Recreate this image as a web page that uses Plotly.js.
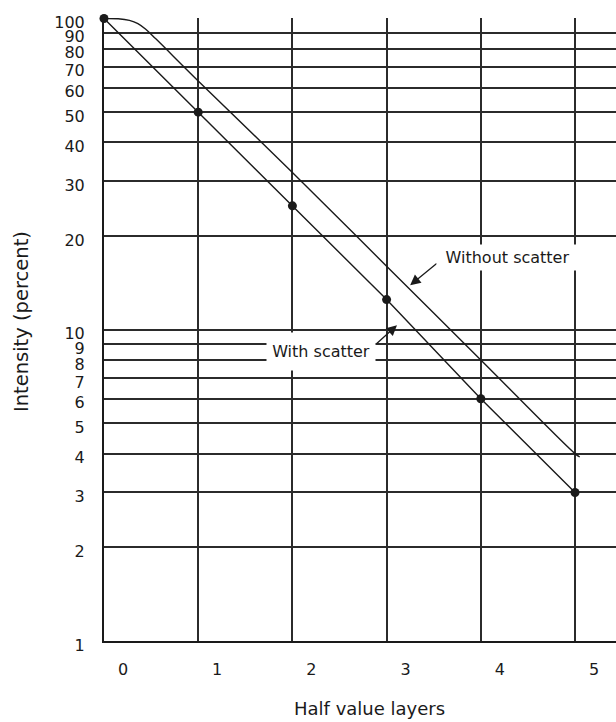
<!DOCTYPE html>
<html>
<head>
<meta charset="utf-8">
<script src="https://cdn.plot.ly/plotly-3.0.1.min.js"></script>
<style>
  html, body { margin: 0; padding: 0; background: #fff; }
  #chart { width: 616px; height: 722px; }
</style>
</head>
<body>
<div id="chart"></div>
<script>
// ---- data ----
const halfValueLayers = [0, 1, 2, 3, 4, 5];
const withScatter = [100, 50, 25, 12.5, 6, 3];
const withoutScatterX = [0, 0.15, 0.27, 0.36, 0.44, 0.55, 1, 2, 3, 4, 5, 5.05];
const withoutScatterY = [100, 99.8, 98.6, 96.3, 92.5, 86, 63, 32, 16, 8, 4, 3.9];
const xTickVals = [0, 1, 2, 3, 4, 5];
const xTickText = ['0', '1', '2', '3', '4', '5'];
const yTickVals = [1, 2, 3, 4, 5, 6, 7, 8, 9, 10, 20, 30, 40, 50, 60, 70, 80, 90, 100];
const yTickText = yTickVals.map(String);

const FONT = 'DejaVu Sans, Verdana, sans-serif';
const INK = '#1a1a1a';
const GRID = '#2b2b2b';

const traces = [
  {
    x: withoutScatterX, y: withoutScatterY,
    type: 'scatter', mode: 'lines',
    line: { color: INK, width: 1.4, shape: 'spline', smoothing: 1 },
    cliponaxis: false, hoverinfo: 'skip', showlegend: false
  },
  {
    x: halfValueLayers, y: withScatter,
    type: 'scatter', mode: 'lines+markers',
    line: { color: INK, width: 1.4 },
    marker: { color: INK, size: 9 },
    cliponaxis: false, hoverinfo: 'skip', showlegend: false
  }
];

const layout = {
  width: 616, height: 722,
  margin: { l: 104, r: 0, t: 18, b: 81, pad: 0 },
  paper_bgcolor: '#fff', plot_bgcolor: '#fff',
  font: { family: FONT, color: INK, size: 16 },
  showlegend: false,
  xaxis: {
    range: [0, 5.435],
    tickvals: xTickVals, ticktext: xTickText,
    showgrid: true, gridcolor: GRID, gridwidth: 2,
    showline: true, linecolor: INK, linewidth: 2,
    zeroline: false, ticks: '',
    ticklabelshift: 19, ticklabelstandoff: 13,
    tickfont: { family: FONT, size: 16, color: INK },
    fixedrange: true
  },
  yaxis: {
    type: 'log', range: [0, 2.0015],
    tickvals: yTickVals, ticktext: yTickText,
    showgrid: true, gridcolor: GRID, gridwidth: 2,
    showline: true, linecolor: INK, linewidth: 2,
    zeroline: false, ticks: '',
    ticklabelshift: 4, ticklabelstandoff: 14,
    tickfont: { family: FONT, size: 16, color: INK },
    fixedrange: true
  },
  annotations: [
    { // y axis title
      xref: 'paper', yref: 'paper', x: -0.162, y: 0.512,
      text: 'Intensity (percent)', textangle: -90, showarrow: false,
      xanchor: 'center', yanchor: 'middle',
      font: { family: FONT, size: 19.5, color: INK }
    },
    { // x axis title
      xref: 'paper', yref: 'paper', x: 0.5195, y: -0.109,
      text: 'Half value layers', showarrow: false,
      xanchor: 'center', yanchor: 'middle',
      font: { family: FONT, size: 18, color: INK }
    },
    { // arrow to "with scatter" line
      xref: 'x', yref: 'y', x: 3.11, y: Math.log10(10.34),
      text: '', showarrow: true, ax: -22, ay: 20,
      arrowhead: 2, arrowsize: 1.6, arrowwidth: 1.3, arrowcolor: INK
    },
    { // arrow to "without scatter" line
      xref: 'x', yref: 'y', x: 3.25, y: Math.log10(13.9),
      text: '', showarrow: true, ax: 28, ay: -23,
      arrowhead: 2, arrowsize: 1.6, arrowwidth: 1.3, arrowcolor: INK
    },
    {
      xref: 'x', yref: 'y', x: 2.30, y: Math.log10(8.5),
      text: 'With scatter', showarrow: false,
      xanchor: 'center', yanchor: 'middle',
      width: 108, height: 37, borderpad: 0, bgcolor: '#fff',
      font: { family: FONT, size: 16, color: INK }
    },
    {
      xref: 'x', yref: 'y', x: 4.283, y: Math.log10(17.02),
      text: 'Without scatter', showarrow: false,
      xanchor: 'center', yanchor: 'middle',
      width: 141, height: 25, borderpad: 0, bgcolor: '#fff',
      font: { family: FONT, size: 16, color: INK }
    }
  ]
};

Plotly.newPlot('chart', traces, layout, { staticPlot: true, displayModeBar: false });
</script>
</body>
</html>
